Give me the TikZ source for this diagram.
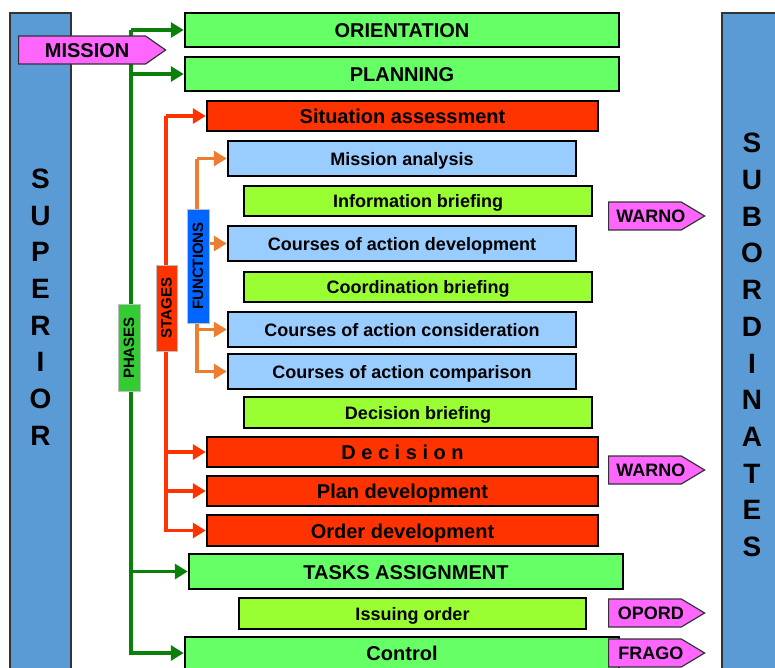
\documentclass[tikz,border=0pt]{standalone}
\usepackage{fontspec}
\setmainfont{Liberation Sans}
\usetikzlibrary{arrows.meta, shapes.symbols}

\definecolor{phasegreen}{HTML}{66FF66}
\definecolor{stagered}{HTML}{FF3300}
\definecolor{funcblue}{HTML}{99CCFF}
\definecolor{briefgreen}{HTML}{99FF33}
\definecolor{tagpink}{HTML}{FF66FF}
\definecolor{barblue}{HTML}{5B9BD5}
\definecolor{lineGreen}{HTML}{0A7F0A}
\definecolor{lineOrange}{HTML}{ED7D31}
\definecolor{labGreen}{HTML}{33CC33}
\definecolor{labBlue}{HTML}{0066FF}

\begin{document}
\begin{tikzpicture}[x=1pt,y=-1pt,
  box/.style={draw=black, line width=2.5pt, inner sep=0pt},
  big/.style={font=\fontsize{20}{24}\selectfont\bfseries, text height=15pt, text depth=0pt},
  small/.style={font=\fontsize{18}{22}\selectfont\bfseries, text height=13.5pt, text depth=0pt},
  phasebox/.style={box, big, fill=phasegreen, minimum width=434pt, minimum height=34pt},
  stagebox/.style={box, big, fill=stagered, minimum width=391pt, minimum height=30pt},
  funcbox/.style={box, small, fill=funcblue, minimum width=348pt, minimum height=35pt},
  briefbox/.style={box, small, fill=briefgreen, minimum width=348pt, minimum height=30pt},
  tag/.style={signal, signal to=east, signal pointer angle=62, draw=black!80, line width=1.2pt, fill=tagpink, anchor=west,
    minimum width=96pt, minimum height=28pt, inner sep=0pt},
  tagtext/.style={small, inner sep=0pt, xshift=6pt},
  bar/.style={draw=black!80, line width=1.5pt, fill=barblue},
  barletters/.style={align=center, font=\fontsize{28}{36.7}\selectfont\bfseries},
  vlabel/.style={rotate=90, draw=black!25, line width=0.5pt, inner sep=0pt, font=\fontsize{15}{18}\selectfont\bfseries},
  tip/.style={-{Triangle[length=13pt,width=15pt]}},
  phase/.style={tip, draw=lineGreen, line width=3.5pt},
  stage/.style={tip, draw=stagered, line width=3.5pt},
  func/.style={tip, draw=lineOrange, line width=3.2pt}]

\useasboundingbox (0,0) rectangle (775,667);

% side bars
\draw[bar] (10,13) rectangle (71,670);
\draw[bar] (722,13) rectangle (780,670);
\node[barletters] (sup) at (40.5,307) {S\\U\\P\\E\\R\\I\\O\\R};
\node[barletters] (sub) at (752,345) {S\\U\\B\\O\\R\\D\\I\\N\\A\\T\\E\\S};

% phases, stages and functions
\node[phasebox] (orient) at (402,30) {ORIENTATION};
\node[phasebox] (plan) at (402,74) {PLANNING};
\node[stagebox] (sit) at (402.5,116) {Situation assessment};
\node[funcbox] (mana) at (402,158.5) {Mission analysis};
\node[briefbox] (infob) at (418,201) {Information briefing};
\node[funcbox] (coadev) at (402,243.5) {Courses of action development};
\node[briefbox] (coordb) at (418,287) {Coordination briefing};
\node[funcbox] (coacons) at (402,329.5) {Courses of action consideration};
\node[funcbox] (coacomp) at (402,371.5) {Courses of action comparison};
\node[briefbox, minimum height=31pt] (decb) at (418,412.5) {Decision briefing};
\node[stagebox] (dec) at (402.5,452) {D e c i s i o n};
\node[stagebox] (pland) at (402.5,491) {Plan development};
\node[stagebox, minimum height=31pt] (orderd) at (402.5,530.5) {Order development};
\node[phasebox, minimum height=35pt] (tasks) at (406,571.5) {TASKS ASSIGNMENT};
\node[briefbox, minimum width=347pt, minimum height=31pt] (issue) at (412.5,613.5) {Issuing order};
\node[phasebox, minimum height=32pt] (ctrl) at (402,653) {Control};

% green phase lines
\coordinate (pTop) at (131,30);
\draw[phase] (pTop) |- (ctrl.west);
\draw[phase] (pTop) -- (orient.west);
\draw[phase] (pTop |- plan.west) -- (plan.west);
\draw[phase] (pTop |- tasks.west) -- (tasks.west);

% red stage lines
\coordinate (sTop) at (166,116);
\draw[stage] (sTop) |- (orderd.west);
\draw[stage] (sTop) -- (sit.west);
\draw[stage] (sTop |- dec.west) -- (dec.west);
\draw[stage] (sTop |- pland.west) -- (pland.west);

% orange function lines
\coordinate (fTop) at (197,158.5);
\draw[func] (fTop) |- (coacomp.west);
\draw[func] (fTop) -- (mana.west);
\draw[func] (fTop |- coadev.west) -- (coadev.west);
\draw[func] (fTop |- coacons.west) -- (coacons.west);

\node[vlabel, fill=labGreen, minimum width=87pt, minimum height=22pt] (phases) at (129,348) {PHASES};
\node[vlabel, fill=stagered, minimum width=86pt, minimum height=21pt] (stages) at (166.5,308) {STAGES};
\node[vlabel, fill=labBlue, minimum width=114pt, minimum height=22pt] (funcs) at (198,266) {FUNCTIONS};

% orders to subordinates
\node[tag, minimum width=147pt, signal pointer angle=70,
  label={[tagtext, big, xshift=-1pt]center:MISSION}] (mission) at (18,50) {};
\node[tag, label={[tagtext]center:WARNO}] (warno1) at (608,216) {};
\node[tag, label={[tagtext]center:WARNO}] (warno2) at (608,470) {};
\node[tag, label={[tagtext]center:OPORD}] (opord) at (608,613) {};
\node[tag, label={[tagtext]center:FRAGO}] (frago) at (608,653) {};

\end{tikzpicture}
\end{document}
